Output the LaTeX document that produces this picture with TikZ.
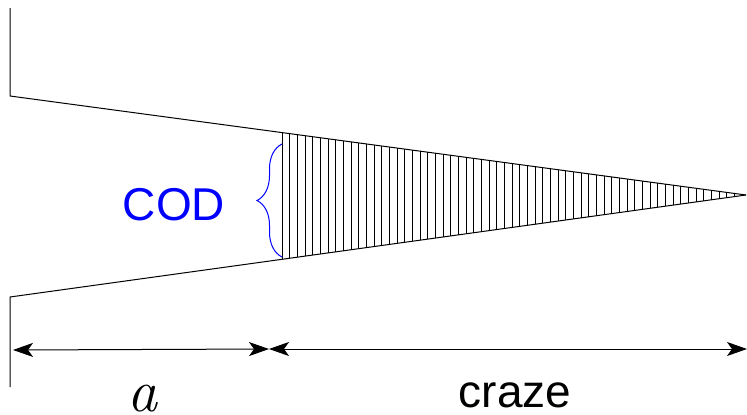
\documentclass[tikz,border=0pt]{standalone}
\usepackage{fontspec}
\setmainfont{Liberation Sans}
\newfontfamily\lmserif{Latin Modern Roman}
\usetikzlibrary{arrows.meta, calc, decorations.pathreplacing}
\definecolor{codblue}{RGB}{0,0,255}

\begin{document}
\begin{tikzpicture}[
    x=1pt, y=-1pt,
    face/.style={line width=1pt},
    hatch/.style={line width=0.9pt},
    dim/.style={line width=1pt, {Stealth[length=20pt, width=14pt, inset=5pt]}-{Stealth[length=20pt, width=14pt, inset=5pt]}},
    label/.style={font=\fontsize{46}{50}\selectfont, inner sep=0pt}
]
    \useasboundingbox (0,0) rectangle (747,415);

    % Crack outline
    \coordinate (topend) at (10,8);
    \coordinate (topcorner) at (10,96);
    \coordinate (botcorner) at (10,297);
    \coordinate (botend) at (10,387);
    \coordinate (tip) at (746,195);
    \draw[face] (topend) -- (topcorner) -- (tip);
    \draw[face] (botend) -- (botcorner) -- (tip);

    % Craze fibrils
    \foreach \i in {0,...,59} {
        \pgfmathsetmacro{\t}{(272+7.67*\i)/736}
        \draw[hatch] ($(topcorner)!\t!(tip)$) -- ($(botcorner)!\t!(tip)$);
    }

    % COD brace
    \coordinate (bracebot) at (282,257);
    \coordinate (bracetop) at (282,144);
    \draw[codblue, line width=1pt, decorate, decoration={brace, amplitude=25pt}]
        (bracebot) -- (bracetop);
    \node[label, text=codblue] (cod) at (174,205) {COD};

    % Dimensions
    \coordinate (dimleft) at (13,350);
    \coordinate (dimmid) at (269,349);
    \coordinate (dimright) at (747,349);
    \draw[dim] (dimleft) -- (dimmid);
    \draw[dim] (dimmid) -- (dimright);
    \node[inner sep=0pt, anchor=base] (alabel) at (142,411) {\fontsize{60}{64}\selectfont\lmserif\itshape a};
    \node[label, anchor=base] (crazelabel) at (515,407) {craze};

\end{tikzpicture}
\end{document}
